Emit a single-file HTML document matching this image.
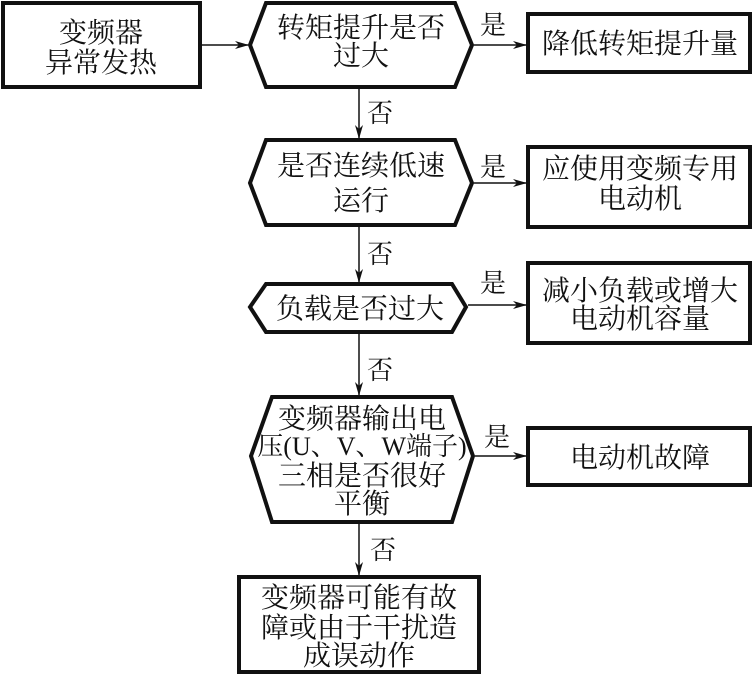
<!DOCTYPE html>
<html><head><meta charset="utf-8"><style>
html,body{margin:0;padding:0;background:#fff;}
svg{display:block;}
text{font-family:"Liberation Serif","Noto Serif CJK SC",serif;font-size:28px;fill:#111;text-anchor:middle;}
.s{font-size:26px;}
</style></head><body>
<svg width="753" height="674" viewBox="0 0 753 674" xmlns="http://www.w3.org/2000/svg">
<defs><marker id="a" markerWidth="14" markerHeight="8" refX="13" refY="4" orient="auto" markerUnits="userSpaceOnUse"><path d="M0,0 L14,4 L0,8 L4,4 Z" fill="#111"/></marker></defs>
<g fill="none" stroke="#111" stroke-width="4">
<rect x="3" y="3" width="197" height="84"/>
<polygon points="250,45 266,3 455,3 472,45 455,87 266,87"/>
<rect x="528" y="14" width="222" height="58"/>
<polygon points="250,183 266,140 455,140 472,183 455,225 266,225"/>
<rect x="528" y="147" width="222" height="80"/>
<polygon points="250,307 266,284 452,284 466,307 452,332 266,332"/>
<rect x="528" y="263" width="222" height="80"/>
<polygon points="251,456 272,397 452,397 473,456 452,522 272,522"/>
<rect x="528" y="428" width="222" height="57"/>
<rect x="239" y="577" width="240" height="95"/>
</g>
<g stroke="#111" stroke-width="1.5" marker-end="url(#a)">
<line x1="202" y1="45" x2="248" y2="45"/>
<line x1="474" y1="45" x2="526" y2="45"/>
<line x1="359" y1="89" x2="359" y2="138"/>
<line x1="474" y1="183" x2="526" y2="183"/>
<line x1="359" y1="227" x2="359" y2="282"/>
<line x1="468" y1="305" x2="526" y2="305"/>
<line x1="359" y1="334" x2="359" y2="395"/>
<line x1="475" y1="456" x2="526" y2="456"/>
<line x1="359" y1="524" x2="359" y2="575"/>
</g>
<g>
<text x="101" y="42">变频器</text><text x="101" y="72">异常发热</text>
<text x="361" y="37">转矩提升是否</text><text x="361" y="65">过大</text>
<text x="640" y="53">降低转矩提升量</text>
<text x="361" y="175">是否连续低速</text><text x="361" y="210">运行</text>
<text x="640" y="178">应使用变频专用</text><text x="640" y="208">电动机</text>
<text x="360" y="318">负载是否过大</text>
<text x="640" y="300">减小负载或增大</text><text x="640" y="328">电动机容量</text>
<text x="362" y="428">变频器输出电</text>
<text x="362" y="455" class="s">压(U、V、W端子)</text>
<text x="362" y="485">三相是否很好</text><text x="362" y="513">平衡</text>
<text x="640" y="467">电动机故障</text>
<text x="359" y="607">变频器可能有故</text><text x="359" y="637">障或由于干扰造</text><text x="359" y="665">成误动作</text>
<text x="493" y="34" class="s">是</text>
<text x="493" y="176" class="s">是</text>
<text x="493" y="292" class="s">是</text>
<text x="497" y="446" class="s">是</text>
<text x="380" y="122" class="s">否</text>
<text x="380" y="263" class="s">否</text>
<text x="380" y="379" class="s">否</text>
<text x="383" y="559" class="s">否</text>
</g>
</svg>
</body></html>
